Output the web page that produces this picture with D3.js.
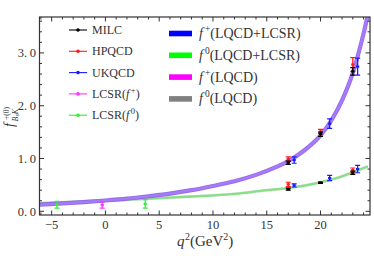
<!DOCTYPE html>
<html><head><meta charset="utf-8">
<script src="https://cdn.jsdelivr.net/npm/d3@7"></script>
<style>
html,body{margin:0;padding:0;background:#fff;}
text{font-family:"Liberation Serif","DejaVu Serif",serif;fill:#333;}
</style></head>
<body><div id="chart"></div>
<script>
// ---- data ----
const xTicks = [-5, 0, 5, 10, 15, 20];
const xTickLabels = ["\u22125", "0", "5", "10", "15", "20"];
const yTicks = [0, 1, 2, 3];
const yTickLabels = ["0.\u20090", "1.\u20090", "2.\u20090", "3.\u20090"];

// fitted curves
const curveQ2   = [-6.13, -4, -2, 0, 2, 4, 6, 8, 10, 12, 14, 16, 17, 18, 19, 20, 21, 22, 23, 23.5, 24.1, 24.4];
const fPlusFit  = [0.125, 0.15, 0.175, 0.205, 0.24, 0.285, 0.335, 0.40, 0.48, 0.57, 0.69, 0.85, 0.95, 1.08, 1.24, 1.44, 1.72, 2.10, 2.62, 2.97, 3.45, 3.72];
const f0Q2      = [-6.13, -4, -2, 0, 2, 4, 6, 8, 10, 12, 15, 17, 20, 22, 23, 24.4];
const fZeroFit  = [0.155, 0.17, 0.19, 0.205, 0.22, 0.24, 0.26, 0.28, 0.30, 0.33, 0.40, 0.44, 0.55, 0.66, 0.74, 0.85];

// lattice / LCSR points
const milcQ2 = [17.0, 20.0, 23.0];
const milcFp = [0.92, 1.46, 2.65], milcFpErr = [0.03, 0.04, 0.07];
const milcF0 = [0.42, 0.54, 0.73], milcF0Err = [0.02, 0.01, 0.03];
const hpqcdQ2 = [17.0, 20.0, 23.0];
const hpqcdFp = [0.99, 1.51, 2.78], hpqcdFpErr = [0.04, 0.04, 0.13];
const hpqcdF0 = [0.51, 0.55, 0.78], hpqcdF0Err = [0.04, 0.01, 0.04];
const ukqcdQ2 = [17.55, 20.85, 23.45];
const ukqcdFp = [0.97, 1.66, 2.74], ukqcdFpErr = [0.06, 0.09, 0.16];
const ukqcdF0 = [0.49, 0.63, 0.80], ukqcdF0Err = [0.03, 0.05, 0.07];
const lcsrFpQ2 = [-0.3], lcsrFp = [0.12], lcsrFpErr = [0.06];
const lcsrF0Q2 = [-4.5, 3.7], lcsrF0 = [0.125, 0.14], lcsrF0Err = [0.065, 0.08];

const pointLegend = [
  {name: "MILC", color: "#000000"},
  {name: "HPQCD", color: "#ff1a1a"},
  {name: "UKQCD", color: "#1a1aff"},
  {name: "LCSR", sup: "+", color: "#ff33ff"},
  {name: "LCSR", sup: "0", color: "#33ee33"}
];
const bandLegend = [
  {sup: "+", label: "(LQCD+LCSR)", color: "#0000ff"},
  {sup: "0", label: "(LQCD+LCSR)", color: "#00ff00"},
  {sup: "+", label: "(LQCD)", color: "#ff00ff"},
  {sup: "0", label: "(LQCD)", color: "#808080"}
];

// ---- layout ----
const W = 374, H = 256;
const L = 39.5, R = 370, T = 17, B = 215;
const x = d3.scaleLinear().domain([-6.13, 24.6]).range([L, R]);
const y = d3.scaleLinear().domain([-0.07, 3.68]).range([B, T]);

const svg = d3.select("#chart").append("svg").attr("width", W).attr("height", H);
svg.append("defs").append("clipPath").attr("id", "clip")
  .append("rect").attr("x", L).attr("y", T).attr("width", R - L).attr("height", B - T);

const plot = svg.append("g").attr("clip-path", "url(#clip)");
const line = d3.line().x(d => x(d[0])).y(d => y(d[1])).curve(d3.curveMonotoneX);

const f0pts = f0Q2.map((q, i) => [q, fZeroFit[i]]);
const fppts = curveQ2.map((q, i) => [q, fPlusFit[i]]);
// f0 bands: gray (LQCD) under green (LQCD+LCSR)
plot.append("path").attr("d", line(f0pts)).attr("fill", "none")
  .attr("stroke", "#808080").attr("stroke-opacity", 0.2).attr("stroke-width", 3);
plot.append("path").attr("d", line(f0pts)).attr("fill", "none")
  .attr("stroke", "#66dd66").attr("stroke-opacity", 0.75).attr("stroke-width", 2.3);
// f+ bands: blue + magenta overlapping -> purple
plot.append("path").attr("d", line(fppts)).attr("fill", "none")
  .attr("stroke", "#8a5cf0").attr("stroke-opacity", 0.9).attr("stroke-width", 4.2);
plot.append("path").attr("d", line(fppts)).attr("fill", "none")
  .attr("stroke", "#a97cf6").attr("stroke-opacity", 0.9).attr("stroke-width", 2.4);

function errPoints(qs, vs, es, color) {
  const g = plot.append("g");
  qs.forEach((q, i) => {
    const cx = x(q), y1 = y(vs[i] - es[i]), y2 = y(vs[i] + es[i]);
    g.append("line").attr("x1", cx).attr("x2", cx).attr("y1", y1).attr("y2", y2)
      .attr("stroke", color).attr("stroke-width", 1.3);
    [y1, y2].forEach(yy => g.append("line").attr("x1", cx - 2.5).attr("x2", cx + 2.5)
      .attr("y1", yy).attr("y2", yy).attr("stroke", color).attr("stroke-width", 1.2));
    g.append("rect").attr("x", cx - 1.6).attr("y", y(vs[i]) - 1.1).attr("width", 3.2).attr("height", 2.2)
      .attr("fill", color);
  });
}
errPoints(lcsrFpQ2, lcsrFp, lcsrFpErr, pointLegend[3].color);
errPoints(lcsrF0Q2, lcsrF0, lcsrF0Err, pointLegend[4].color);
errPoints(hpqcdQ2, hpqcdFp, hpqcdFpErr, pointLegend[1].color);
errPoints(hpqcdQ2, hpqcdF0, hpqcdF0Err, pointLegend[1].color);
errPoints(milcQ2, milcFp, milcFpErr, pointLegend[0].color);
errPoints(milcQ2, milcF0, milcF0Err, pointLegend[0].color);
errPoints(ukqcdQ2, ukqcdFp, ukqcdFpErr, pointLegend[2].color);
errPoints(ukqcdQ2, ukqcdF0, ukqcdF0Err, pointLegend[2].color);

// ---- frame and ticks ----
const axG = svg.append("g");
axG.append("rect").attr("x", L).attr("y", T).attr("width", R - L).attr("height", B - T)
  .attr("fill", "none").attr("stroke", "#333").attr("stroke-width", 1.2);
const xMinor = d3.range(-6, 24.61, 1).filter(v => xTicks.indexOf(v) < 0);
const yMinor = d3.range(0, 3.61, 0.2).map(v => +v.toFixed(1)).filter(v => yTicks.indexOf(v) < 0);
function tickX(v, len) {
  axG.append("line").attr("x1", x(v)).attr("x2", x(v)).attr("y1", B).attr("y2", B - len).attr("stroke", "#333").attr("stroke-width", 1);
  axG.append("line").attr("x1", x(v)).attr("x2", x(v)).attr("y1", T).attr("y2", T + len).attr("stroke", "#333").attr("stroke-width", 1);
}
function tickY(v, len) {
  axG.append("line").attr("y1", y(v)).attr("y2", y(v)).attr("x1", L).attr("x2", L + len).attr("stroke", "#333").attr("stroke-width", 1);
  axG.append("line").attr("y1", y(v)).attr("y2", y(v)).attr("x1", R).attr("x2", R - len).attr("stroke", "#333").attr("stroke-width", 1);
}
xTicks.forEach(v => tickX(v, 4.5));
xMinor.forEach(v => tickX(v, 2.5));
yTicks.forEach(v => tickY(v, 4.5));
yMinor.forEach(v => tickY(v, 2.5));

xTicks.forEach((v, i) => axG.append("text").attr("x", x(v)).attr("y", 229)
  .attr("text-anchor", "middle").attr("font-size", 12.5).text(xTickLabels[i]));
yTicks.forEach((v, i) => axG.append("text").attr("x", 36).attr("y", y(v) + 4.3)
  .attr("text-anchor", "end").attr("font-size", 12.5).text(yTickLabels[i]));

// x label
const xl = svg.append("text").attr("x", 177).attr("y", 246).attr("font-size", 15);
xl.append("tspan").attr("font-style", "italic").text("q");
xl.append("tspan").attr("font-size", 10).attr("dy", -6).attr("dx", 0.5).text("2");
xl.append("tspan").attr("dy", 6).text("(GeV");
xl.append("tspan").attr("font-size", 10).attr("dy", -6).text("2");
xl.append("tspan").attr("dy", 6).text(")");

// y label (rotated)
const yl = svg.append("g").attr("transform", "translate(14,127) rotate(-90)");
yl.append("text").attr("x", 0).attr("y", 0).attr("font-size", 14).attr("font-style", "italic").text("f");
yl.append("text").attr("x", 7).attr("y", -5.5).attr("font-size", 7.5).text("+(0)");
const sub = yl.append("text").attr("x", 5.5).attr("y", 3.5).attr("font-size", 8).attr("font-style", "italic");
sub.append("tspan").text("B");
sub.append("tspan").attr("font-size", 6).attr("dy", 1.5).text("s");
sub.append("tspan").attr("dy", -1.5).text("K");

// ---- legends ----
pointLegend.forEach((d, i) => {
  const cy = 30 + i * 21.3;
  svg.append("line").attr("x1", 69).attr("x2", 87).attr("y1", cy).attr("y2", cy)
    .attr("stroke", d.color).attr("stroke-width", 1.1);
  svg.append("circle").attr("cx", 78).attr("cy", cy).attr("r", 1.8).attr("fill", d.color);
  const t = svg.append("text").attr("x", 92).attr("y", cy + 4).attr("font-size", 12);
  t.append("tspan").text(d.name);
  if (d.sup) {
    t.append("tspan").text("(");
    t.append("tspan").attr("font-style", "italic").text("f");
    t.append("tspan").attr("font-size", 8.5).attr("dy", -5).attr("dx", 1.5).text(d.sup);
    t.append("tspan").attr("dy", 5).text(")");
  }
});
bandLegend.forEach((d, i) => {
  const cy = 33.5 + i * 21.8;
  svg.append("rect").attr("x", 169).attr("y", cy - 2.8).attr("width", 23).attr("height", 5.6).attr("fill", d.color);
  const t = svg.append("text").attr("x", 199).attr("y", cy + 4.5).attr("font-size", 14);
  t.append("tspan").attr("font-style", "italic").text("f");
  t.append("tspan").attr("font-size", 9.5).attr("dy", -6).attr("dx", 2).text(d.sup);
  t.append("tspan").attr("dy", 6).text(d.label);
});
</script></body></html>
